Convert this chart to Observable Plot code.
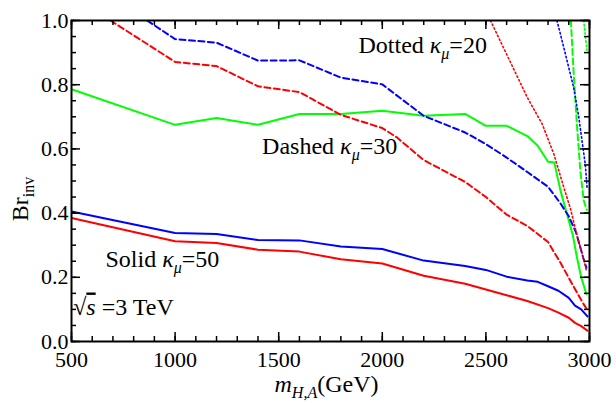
<!DOCTYPE html>
<html><head><meta charset="utf-8">
<script src="https://cdn.jsdelivr.net/npm/d3@7"></script>
<script src="https://cdn.jsdelivr.net/npm/@observablehq/plot@0.6"></script>
<style>body{margin:0;background:#fff} svg text{font-family:"Liberation Serif","Times New Roman","DejaVu Serif",serif !important;}</style>
</head><body><div id="chart"></div>
<script>
// tick labels
const xTickLabels = [500, 1000, 1500, 2000, 2500, 3000];
const yTickLabels = [0.0, 0.2, 0.4, 0.6, 0.8, 1.0];

// Solid (kappa_mu = 50)
const mBlueSolid  = [500,1000,1200,1400,1600,1800,2000,2200,2400,2500,2600,2700,2750,2800,2850,2900,2930,2960,2990];
const brBlueSolid = [0.405,0.338,0.335,0.316,0.315,0.296,0.288,0.252,0.235,0.223,0.202,0.19,0.186,0.172,0.158,0.136,0.112,0.1,0.078];
const mRedSolid   = [500,1000,1200,1400,1600,1800,2000,2200,2400,2600,2700,2800,2850,2900,2930,2960,2990];
const brRedSolid  = [0.385,0.312,0.307,0.286,0.280,0.256,0.243,0.205,0.180,0.144,0.126,0.104,0.09,0.074,0.058,0.048,0.034];
const mGreenSolid = [500,1000,1200,1400,1600,1800,2000,2200,2400,2500,2600,2700,2750,2800,2830,2860,2890,2920,2940,2960,2985];
const brGreenSolid= [0.786,0.675,0.696,0.675,0.709,0.709,0.719,0.703,0.709,0.672,0.672,0.64,0.61,0.56,0.558,0.47,0.40,0.33,0.26,0.2,0.148];

// Dashed (kappa_mu = 30)
const mBlueDashed  = [865,1000,1200,1400,1600,1800,2000,2200,2400,2500,2600,2700,2800,2860,2900,2935,2970,2985];
const brBlueDashed = [1.0,0.942,0.931,0.875,0.876,0.822,0.801,0.703,0.651,0.615,0.573,0.528,0.482,0.43,0.39,0.34,0.26,0.23];
const mRedDashed   = [688,1000,1200,1400,1600,1800,2000,2070,2200,2400,2500,2600,2700,2800,2860,2920,2970,2988];
const brRedDashed  = [1.0,0.871,0.858,0.795,0.777,0.706,0.665,0.636,0.565,0.497,0.45,0.395,0.36,0.31,0.245,0.175,0.118,0.1];
const mGreenDashed = [2910,2925,2940,2956,2972,2987];
const brGreenDashed= [1.0,0.82,0.67,0.53,0.44,0.41];

// Dotted (kappa_mu = 20)
const mRedDotted   = [2522,2600,2700,2772,2828,2876,2908,2940,2972,2985];
const brRedDotted  = [1.0,0.895,0.76,0.677,0.584,0.48,0.414,0.33,0.257,0.22];
const mBlueDotted  = [2843,2884,2924,2948,2980,2988];
const brBlueDotted = [1.0,0.895,0.79,0.70,0.55,0.48];
const mGreenDotted = [2972,2988];
const brGreenDotted= [1.0,0.905];

const RED = "#ff0000", BLUE = "#0000ff", GREEN = "#00ff00";
const W = 616, H = 403, ML = 71, MR = 27, MT = 20, MB = 62;
const FW = W - ML - MR, FH = H - MT - MB;
const SERIF = "Liberation Serif, Times New Roman, DejaVu Serif, serif";

const xMinor = d3.range(500, 3001, 100);
const yMinor = d3.range(0, 1.0001, 0.05);

const ln = (xs, ys, color, kind) => Plot.line(ys, {
  x: xs, y: ys, stroke: color,
  strokeWidth: kind === "dotted" ? 1.6 : 2,
  strokeDasharray: kind === "dashed" ? "6,3.5" : kind === "dotted" ? "1.5,2.6" : null,
  clip: true
});

const tk = {stroke: "black", strokeWidth: 1.5};

const chart = Plot.plot({
  width: W, height: H,
  marginLeft: ML, marginRight: MR, marginTop: MT, marginBottom: MB,
  x: {domain: [500, 3000]},
  y: {domain: [0, 1]},
  style: {fontFamily: SERIF, fontSize: "22px", background: "white", color: "black"},
  marks: [
    ln(mRedSolid, brRedSolid, RED, "solid"),
    ln(mBlueSolid, brBlueSolid, BLUE, "solid"),
    ln(mGreenSolid, brGreenSolid, GREEN, "solid"),
    ln(mRedDashed, brRedDashed, RED, "dashed"),
    ln(mBlueDashed, brBlueDashed, BLUE, "dashed"),
    ln(mGreenDashed, brGreenDashed, GREEN, "dashed"),
    ln(mRedDotted, brRedDotted, RED, "dotted"),
    ln(mBlueDotted, brBlueDotted, BLUE, "dotted"),
    ln(mGreenDotted, brGreenDotted, GREEN, "dotted"),
    // inward ticks: bottom/top
    Plot.tickX(xMinor, {x: d => d, insetTop: FH - 5, ...tk}),
    Plot.tickX(xTickLabels, {x: d => d, insetTop: FH - 9, ...tk}),
    Plot.tickX(xMinor, {x: d => d, insetBottom: FH - 5, ...tk}),
    Plot.tickX(xTickLabels, {x: d => d, insetBottom: FH - 9, ...tk}),
    // inward ticks: left/right
    Plot.tickY(yMinor, {y: d => d, insetRight: FW - 5, ...tk}),
    Plot.tickY(yTickLabels, {y: d => d, insetRight: FW - 9, ...tk}),
    Plot.tickY(yMinor, {y: d => d, insetLeft: FW - 5, ...tk}),
    Plot.tickY(yTickLabels, {y: d => d, insetLeft: FW - 9, ...tk}),
    Plot.frame({stroke: "black", strokeWidth: 2}),
    Plot.axisX(xTickLabels, {anchor: "bottom", tickSize: 0, tickPadding: 10, tickFormat: d => String(d), label: null, fontSize: 22}),
    Plot.axisY(yTickLabels, {anchor: "left", tickSize: 0, tickPadding: 3, tickFormat: d3.format(".1f"), label: null, fontSize: 22}),
    // annotations
    Plot.text(["Dotted κμ=20"], {x: [1885], y: [0.9], textAnchor: "start", lineAnchor: "bottom", fontSize: 24}),
    Plot.text(["Dashed κμ=30"], {x: [1420], y: [0.585], textAnchor: "start", lineAnchor: "bottom", fontSize: 24}),
    Plot.text(["Solid κμ=50"], {x: [664], y: [0.231], textAnchor: "start", lineAnchor: "bottom", fontSize: 24}),
    Plot.text(["√s =3 TeV"], {x: [508], y: [0.081], textAnchor: "start", lineAnchor: "bottom", fontSize: 24}),
    // axis labels
    Plot.text(["Br_inv"], {frameAnchor: "left", dx: -51, dy: 18, rotate: -90, textAnchor: "middle", lineAnchor: "middle", fontSize: 24}),
    Plot.text(["m_HA(GeV)"], {frameAnchor: "bottom", dx: -4, dy: 50, textAnchor: "middle", lineAnchor: "bottom", fontSize: 24})
  ]
});

document.getElementById("chart").appendChild(chart);

// rich text with italics / subscripts
const rich = {
  "Dotted κμ=20": ["Dotted ", {t: "κ", i: 1}, {t: "μ", i: 1, sub: 1}, "=20"],
  "Dashed κμ=30": ["Dashed ", {t: "κ", i: 1}, {t: "μ", i: 1, sub: 1}, "=30"],
  "Solid κμ=50": ["Solid ", {t: "κ", i: 1}, {t: "μ", i: 1, sub: 1}, "=50"],
  "√s =3 TeV": ["√", {t: "s", i: 1, over: 1}, " =3 TeV"],
  "Br_inv": ["Br", {t: "inv", sub: 1}],
  "m_HA(GeV)": [{t: "m", i: 1}, {t: "H,A", i: 1, sub: 1}, "(GeV)"]
};
d3.select(chart).selectAll("text").attr("font-family", SERIF).each(function () {
  const key = this.textContent;
  const parts = rich[key];
  if (!parts) return;
  const el = d3.select(this);
  el.text(null);
  let shift = 0;
  for (const p of parts) {
    const o = typeof p === "string" ? {t: p} : p;
    const ts = el.append("tspan").text(o.t);
    if (o.i) ts.attr("font-style", "italic");
    if (o.over) ts.style("text-decoration", "overline");
    const target = o.sub ? 6 : 0;
    if (target !== shift) { ts.attr("dy", target - shift); shift = target; }
    if (o.sub) ts.attr("font-size", "16px");
  }
});
</script>
</body></html>
